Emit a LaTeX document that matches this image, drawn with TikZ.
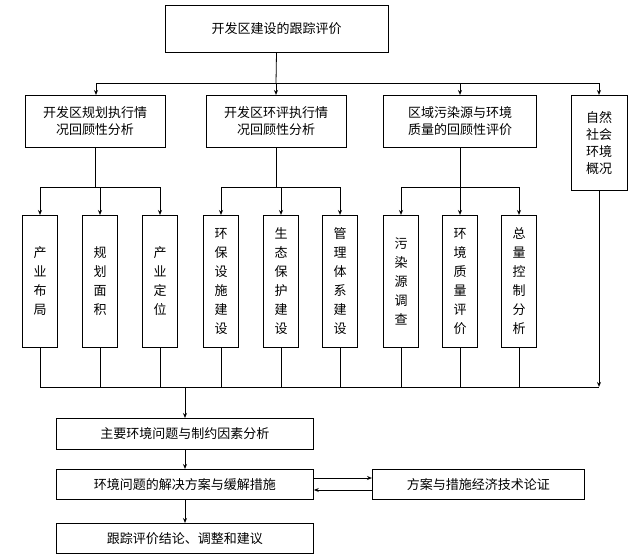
\documentclass[tikz,border=0pt]{standalone}
\usepackage{fontspec}
\setmainfont{Noto Sans CJK SC}
\usetikzlibrary{arrows.meta}
\begin{document}
\begin{tikzpicture}[x=1pt,y=-1pt,
  box/.style={draw,line width=0.8pt,inner sep=0pt,font=\fontsize{13}{17}\selectfont,align=center},
  leaf/.style={box,minimum width=35pt,minimum height=132pt,anchor=north,font=\fontsize{13}{19}\selectfont},
  ln/.style={line width=0.8pt},
  ar/.style={ln,-{Stealth[open,length=5pt,width=4pt]}}]
\useasboundingbox (0,0) rectangle (640,557);
\node[box,minimum width=223pt,minimum height=47pt] (top) at (276.5,28.5) {开发区建设的跟踪评价};
\node[box,minimum width=140pt,minimum height=52pt,anchor=north] (g1) at (95,95) {开发区规划执行情\\况回顾性分析};
\node[box,minimum width=140pt,minimum height=52pt,anchor=north] (g2) at (276,95) {开发区环评执行情\\况回顾性分析};
\node[box,minimum width=153pt,minimum height=52pt,anchor=north] (g3) at (460,95) {区域污染源与环境\\质量的回顾性评价};
\node[box,minimum width=56pt,minimum height=95pt,anchor=north] (g4) at (599,95) {自然\\社会\\环境\\概况};
\coordinate (b0) at (276,83);
\draw[ln] (top.south) -- (b0);
\draw[ln] (96,83) -- (599,83);
\foreach \x/\n in {96/g1,276/g2,460/g3,599/g4} \draw[ar] (\x,83) -- (\n.north -| \x,83);
% leaves
\foreach \n/\x/\t in {l1/40/产\\业\\布\\局, l2/100/规\\划\\面\\积, l3/160/产\\业\\定\\位,
  l4/221/环\\保\\设\\施\\建\\设, l5/281/生\\态\\保\\护\\建\\设, l6/340/管\\理\\体\\系\\建\\设,
  l7/401/污\\染\\源\\调\\查, l8/460/环\\境\\质\\量\\评\\价, l9/519/总\\量\\控\\制\\分\\析}
  \node[leaf] (\n) at (\x,215) {\t};
\foreach \g/\a/\b/\c in {g1/l1/l2/l3, g2/l4/l5/l6, g3/l7/l8/l9}{
  \draw[ln] (\a.north |- 0,187) -- (\c.north |- 0,187);
  \draw[ln] (\g.south |- 0,147) -- (\g.south |- 0,187);
  \foreach \l in {\a,\b,\c} \draw[ar] (\l.north |- 0,187) -- (\l.north);
}
\coordinate (bus) at (185,387);
\draw[ln] (40,387) -- (599,387);
\foreach \l in {l1,l2,l3,l4,l5,l6,l7,l8,l9} \draw[ln] (\l.south) -- (\l.south |- bus);
\draw[ar] (g4.south) -- (g4.south |- bus);
\node[box,minimum width=257pt,minimum height=31pt,anchor=north west] (m1) at (56,418) {主要环境问题与制约因素分析};
\node[box,minimum width=257pt,minimum height=30pt,anchor=north west] (m2) at (56,469) {环境问题的解决方案与缓解措施};
\node[box,minimum width=257pt,minimum height=30pt,anchor=north west] (m3) at (56,523) {跟踪评价结论、调整和建议};
\node[box,minimum width=212pt,minimum height=30pt,anchor=north west] (d) at (372,469) {方案与措施经济技术论证};
\draw[ar] (bus) -- (m1.north -| bus);
\draw[ar] (m1.south -| bus) -- (m2.north -| bus);
\draw[ar] (m2.south -| bus) -- (m3.north -| bus);
\draw[ar] (m2.east |- 0,478) -- (d.west |- 0,478);
\draw[ar] (d.west |- 0,490) -- (m2.east |- 0,490);
\end{tikzpicture}
\end{document}
